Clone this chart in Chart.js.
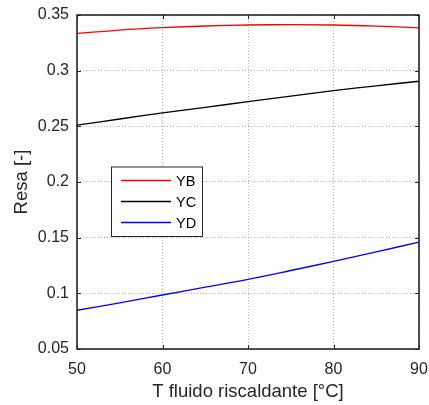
<!DOCTYPE html>
<html>
<head>
<meta charset="utf-8">
<script src="https://cdn.jsdelivr.net/npm/chart.js@4.4.0/dist/chart.umd.min.js"></script>
<style>
  html, body { margin: 0; padding: 0; background: #fff; }
  #wrap { width: 429px; height: 405px; }
</style>
</head>
<body>
<div id="wrap"><canvas id="plot" width="429" height="405"></canvas></div>
<script>
// temperature of heating fluid [°C]
const temps = [50, 55, 60, 65, 70, 75, 80, 85, 90];
const yb = [0.3335, 0.3365, 0.3386, 0.3401, 0.3410, 0.3413, 0.3410, 0.3400, 0.3385];
const yc = [0.2510, 0.2566, 0.2620, 0.2671, 0.2721, 0.2771, 0.2820, 0.2864, 0.2905];
const yd = [0.0848, 0.0915, 0.0985, 0.1055, 0.1126, 0.1205, 0.1287, 0.1372, 0.1461];
const seriesNames = ['YB', 'YC', 'YD'];
const seriesColors = ['#ff0000', '#000000', '#0000ff'];
const xTicks = [50, 60, 70, 80, 90];
const yTicks = [0.05, 0.1, 0.15, 0.2, 0.25, 0.3, 0.35];

const font = "'Liberation Sans', Arial, sans-serif";
const axisColor = '#262626';

function pts(arr) {
  return temps.map((t, i) => ({ x: t, y: arr[i] }));
}

// box round the plot, inward ticks on all sides, legend box
const matlabBox = {
  id: 'matlabBox',
  afterDatasetsDraw(chart) {
    const { ctx, chartArea: a, scales } = chart;
    ctx.save();
    ctx.strokeStyle = axisColor;
    ctx.lineWidth = 1;
    const len = 4;
    ctx.beginPath();
    xTicks.forEach(v => {
      const px = Math.round(scales.x.getPixelForValue(v)) + 0.5;
      ctx.moveTo(px, a.bottom); ctx.lineTo(px, a.bottom - len);
      ctx.moveTo(px, a.top); ctx.lineTo(px, a.top + len);
    });
    yTicks.forEach(v => {
      const py = Math.round(scales.y.getPixelForValue(v)) + 0.5;
      ctx.moveTo(a.left, py); ctx.lineTo(a.left + len, py);
      ctx.moveTo(a.right, py); ctx.lineTo(a.right - len, py);
    });
    ctx.stroke();
    ctx.lineWidth = 1.6;
    ctx.strokeRect(a.left, a.top, a.right - a.left, a.bottom - a.top);

    // legend
    const lx = 111, ly = 166.5, lw = 91, lh = 69.5;
    ctx.fillStyle = '#fff';
    ctx.fillRect(lx, ly, lw, lh);
    ctx.lineWidth = 1;
    ctx.strokeStyle = axisColor;
    ctx.strokeRect(lx + 0.5, ly + 0.5, lw, lh);
    ctx.font = '14.5px ' + font;
    ctx.textBaseline = 'middle';
    ctx.textAlign = 'left';
    chart.data.datasets.forEach((ds, i) => {
      const ry = 180.5 + i * 21;
      ctx.strokeStyle = ds.borderColor;
      ctx.lineWidth = 1.3;
      ctx.beginPath();
      ctx.moveTo(121, ry); ctx.lineTo(171, ry);
      ctx.stroke();
      ctx.fillStyle = '#000';
      ctx.fillText(ds.label, 176, ry + 1);
    });
    ctx.restore();
  }
};

new Chart(document.getElementById('plot'), {
  type: 'line',
  data: {
    datasets: [
      { label: seriesNames[0], data: pts(yb), borderColor: seriesColors[0] },
      { label: seriesNames[1], data: pts(yc), borderColor: seriesColors[1] },
      { label: seriesNames[2], data: pts(yd), borderColor: seriesColors[2] }
    ].map(d => Object.assign(d, { borderWidth: 1.3, pointRadius: 0, tension: 0.4, fill: false }))
  },
  options: {
    responsive: false,
    animation: false,
    layout: { padding: { top: 15, right: 0, left: 0, bottom: 0 } },
    plugins: { legend: { display: false }, tooltip: { enabled: false } },
    scales: {
      x: {
        type: 'linear',
        min: 50, max: 90,
        afterBuildTicks: s => { s.ticks = xTicks.map(v => ({ value: v })); },
        afterFit: s => { s.height = 56; s.paddingLeft = 0; s.paddingRight = 10; },
        grid: { color: 'rgba(0,0,0,0.3)', drawTicks: false },
        border: { display: false, dash: [1, 2] },
        ticks: { color: '#262626', font: { family: font, size: 16 }, padding: 11 },
        title: { display: true, text: 'T fluido riscaldante [°C]', color: '#262626',
                 font: { family: font, size: 18.5 }, padding: { top: 0, bottom: 2 } }
      },
      y: {
        type: 'linear',
        min: 0.05, max: 0.35,
        afterBuildTicks: s => { s.ticks = yTicks.map(v => ({ value: v })); },
        afterFit: s => { s.width = 77; s.paddingTop = 0; s.paddingBottom = 0; },
        grid: { color: 'rgba(0,0,0,0.3)', drawTicks: false },
        border: { display: false, dash: [1, 2] },
        ticks: { color: '#262626', font: { family: font, size: 16 }, padding: 8,
                 callback: v => String(Math.round(v * 100) / 100) },
        title: { display: true, text: 'Resa [-]', color: '#262626',
                 font: { family: font, size: 18.5 }, padding: { top: 11, bottom: 0 } }
      }
    }
  },
  plugins: [matlabBox]
});
</script>
</body>
</html>
